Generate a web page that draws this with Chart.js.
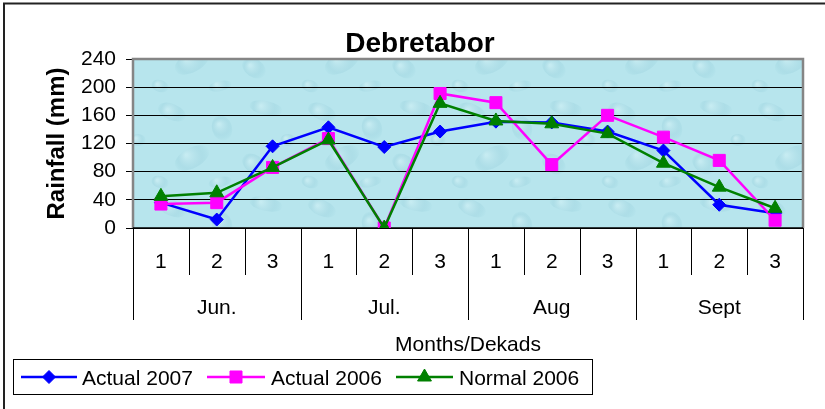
<!DOCTYPE html>
<html>
<head>
<meta charset="utf-8">
<title>Debretabor</title>
<script src="https://cdn.jsdelivr.net/npm/chart.js"></script>
<style>
  html, body { margin: 0; padding: 0; background: #fff; }
  canvas { display: block; }
</style>
</head>
<body>
<canvas id="rainChart" width="825" height="409"></canvas>
<script>
// data
const dekads = ['1', '2', '3', '1', '2', '3', '1', '2', '3', '1', '2', '3'];
const months = ['Jun.', 'Jul.', 'Aug', 'Sept'];
const actual2007 = [36, 12, 116, 143, 115, 137, 151, 150, 137, 110, 33, 21];
const actual2006 = [34, 36, 86, 127, 0, 191, 178, 90, 160, 129, 96, 11];
const normal2006 = [45, 50, 86, 125, 0, 177, 152, 148, 134, 92, 58, 28];
const yTicks = [0, 40, 80, 120, 160, 200, 240];

const FONT = "'Liberation Sans', Arial, sans-serif";

// light blue "water drops" fill for the plot area
function waterPattern(ctx) {
  const c = document.createElement('canvas');
  c.width = 150; c.height = 96;
  const g = c.getContext('2d');
  g.fillStyle = '#b7e5ed';
  g.fillRect(0, 0, c.width, c.height);
  const drops = [
    [22, 16, 15, 8, 0.4], [72, 32, 10, 13, -0.3], [116, 12, 17, 7, 0.2], [42, 62, 19, 10, -0.5],
    [104, 68, 13, 9, 0.6], [138, 44, 8, 6, 0], [10, 86, 9, 6, 0.3], [70, 86, 12, 5, -0.2]
  ];
  drops.forEach(([x, y, rx, ry, rot]) => {
    const gr = g.createRadialGradient(x - rx * 0.3, y - ry * 0.3, 1, x, y, Math.max(rx, ry));
    gr.addColorStop(0, 'rgba(215,243,247,0.45)');
    gr.addColorStop(0.6, 'rgba(150,205,218,0.3)');
    gr.addColorStop(1, 'rgba(120,190,205,0)');
    g.fillStyle = gr;
    g.beginPath();
    g.ellipse(x, y, rx, ry, rot, 0, Math.PI * 2);
    g.fill();
  });
  return ctx.createPattern(c, 'repeat');
}

const decorPlugin = {
  id: 'decor',
  beforeDraw(chart) {
    const { ctx, chartArea: a } = chart;
    ctx.save();
    ctx.fillStyle = '#fff';
    ctx.fillRect(0, 0, chart.width, chart.height);
    // outer frame (runs off the right and bottom)
    ctx.strokeStyle = '#222';
    ctx.lineWidth = 2;
    ctx.strokeRect(4, 3.5, chart.width + 20, chart.height + 20);
    // plot background
    ctx.fillStyle = waterPattern(ctx);
    ctx.fillRect(a.left, a.top, a.right - a.left, a.bottom - a.top);
    ctx.restore();
  },
  beforeDatasetsDraw(chart) {
    const { ctx, chartArea: a } = chart;
    ctx.save();
    ctx.strokeStyle = '#858585';
    ctx.lineWidth = 2.5;
    ctx.beginPath();
    ctx.moveTo(a.left, a.bottom);
    ctx.lineTo(a.left, a.top);
    ctx.lineTo(a.right, a.top);
    ctx.lineTo(a.right, a.bottom);
    ctx.stroke();
    ctx.strokeStyle = '#000';
    ctx.lineWidth = 1.5;
    ctx.beginPath();
    ctx.moveTo(a.left, a.bottom);
    ctx.lineTo(a.right, a.bottom);
    ctx.stroke();
    ctx.restore();
  },
  afterDraw(chart) {
    const { ctx, chartArea: a } = chart;
    const x = chart.scales.x;
    ctx.save();

    // category separators, longer at month boundaries
    ctx.strokeStyle = '#000';
    ctx.lineWidth = 1;
    for (let i = 0; i <= dekads.length; i++) {
      const px = Math.round(x.getPixelForValue(i - 0.5)) + 0.5;
      const longLine = i % 3 === 0;
      ctx.beginPath();
      ctx.moveTo(px, a.bottom);
      ctx.lineTo(px, longLine ? 320 : 275);
      ctx.stroke();
    }

    // month labels
    ctx.fillStyle = '#000';
    ctx.font = '21px ' + FONT;
    ctx.textAlign = 'center';
    ctx.textBaseline = 'alphabetic';
    months.forEach((m, i) => {
      const mid = x.getPixelForValue(i * 3 + 1);
      ctx.fillText(m, mid, 314);
    });

    // title
    ctx.font = 'bold 28px ' + FONT;
    ctx.fillText('Debretabor', 420, 52);

    // legend
    ctx.strokeStyle = '#000';
    ctx.lineWidth = 1;
    ctx.strokeRect(13.5, 359.5, 579, 35);
    const items = [
      { x0: 21, x1: 77, tx: 82 },
      { x0: 207, x1: 265, tx: 271 },
      { x0: 396, x1: 453, tx: 459 }
    ];
    const ly = 377;
    chart.data.datasets.forEach((ds, i) => {
      const it = items[i];
      ctx.strokeStyle = ds.borderColor;
      ctx.lineWidth = ds.borderWidth;
      ctx.beginPath();
      ctx.moveTo(it.x0, ly);
      ctx.lineTo(it.x1, ly);
      ctx.stroke();
      ctx.fillStyle = ds.pointBackgroundColor;
      ctx.strokeStyle = ds.pointBorderColor;
      ctx.lineWidth = 1;
      Chart.helpers.drawPoint(ctx, {
        pointStyle: ds.pointStyle,
        radius: ds.pointRadius,
        rotation: 0,
        borderWidth: 1
      }, (it.x0 + it.x1) / 2, ly);
      ctx.fillStyle = '#000';
      ctx.font = '21px ' + FONT;
      ctx.textAlign = 'left';
      ctx.fillText(ds.label, it.tx, 385);
    });
    ctx.restore();
  }
};

function lineSet(label, data, color, style, radius, order) {
  return {
    label: label,
    data: data,
    borderColor: color,
    backgroundColor: color,
    borderWidth: 2.5,
    pointStyle: style,
    pointRadius: radius,
    pointHoverRadius: radius,
    pointBackgroundColor: color,
    pointBorderColor: color,
    pointBorderWidth: 1,
    tension: 0,
    fill: false,
    order: order
  };
}

new Chart(document.getElementById('rainChart').getContext('2d'), {
  type: 'line',
  data: {
    labels: dekads,
    datasets: [
      lineSet('Actual 2007', actual2007, '#0000ff', 'rectRot', 6.5, 3),
      lineSet('Actual 2006', actual2006, '#ff00ff', 'rect', 8.5, 2),
      lineSet('Normal 2006', normal2006, '#008000', 'triangle', 8, 1)
    ]
  },
  options: {
    responsive: false,
    animation: false,
    devicePixelRatio: 1,
    layout: { padding: { left: 0, top: 59, right: 22, bottom: 0 } },
    plugins: {
      legend: { display: false },
      title: { display: false },
      tooltip: { enabled: false }
    },
    scales: {
      x: {
        type: 'category',
        offset: true,
        afterFit: s => { s.height = 181; },
        grid: { display: false },
        border: { display: false },
        ticks: {
          autoSkip: false,
          maxRotation: 0,
          padding: 14,
          color: '#000',
          font: { family: FONT, size: 21 }
        },
        title: {
          display: true,
          text: 'Months/Dekads',
          color: '#000',
          font: { family: FONT, size: 21 },
          padding: { top: 0, bottom: 51 }
        }
      },
      y: {
        min: 0,
        max: 240,
        afterFit: s => { s.width = 133; },
        afterBuildTicks: s => { s.ticks = yTicks.map(v => ({ value: v })); },
        grid: {
          color: '#000',
          lineWidth: 1,
          tickColor: '#000',
          tickLength: 7
        },
        border: { display: false },
        ticks: {
          autoSkip: false,
          padding: 10,
          color: '#000',
          font: { family: FONT, size: 21 }
        },
        title: {
          display: true,
          text: 'Rainfall (mm)',
          color: '#000',
          font: { family: FONT, size: 24, weight: 'bold' },
          padding: { top: 43, bottom: 0 }
        }
      }
    }
  },
  plugins: [decorPlugin]
});
</script>
</body>
</html>
